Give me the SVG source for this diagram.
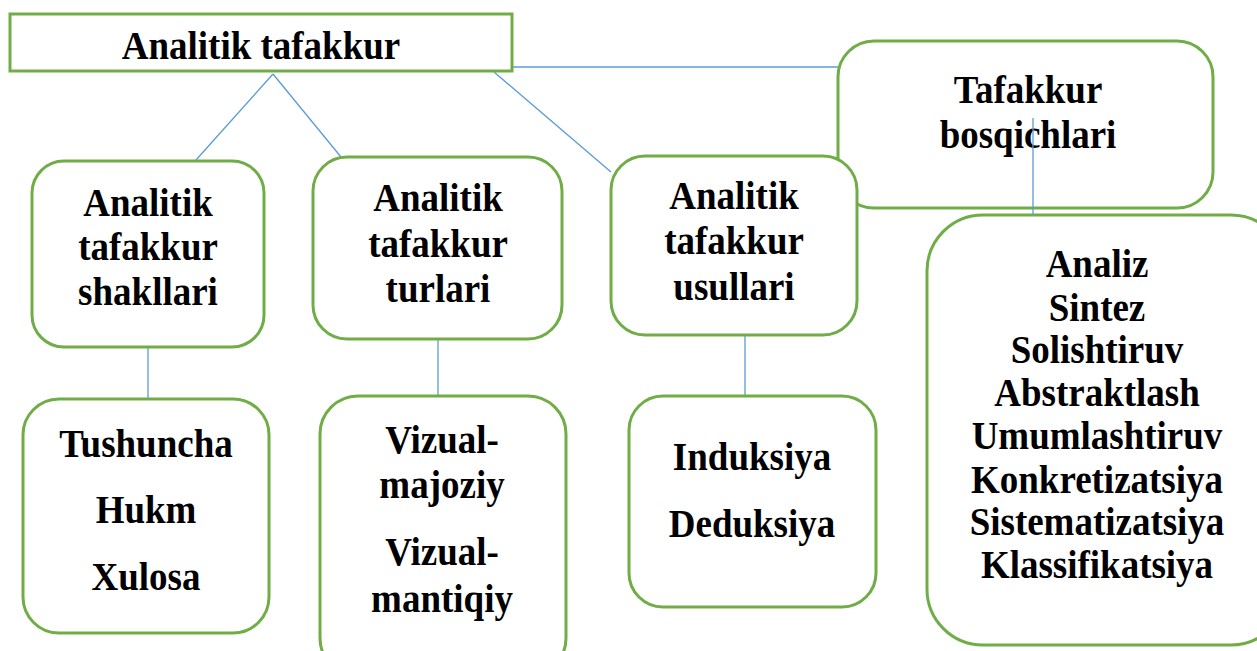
<svg xmlns="http://www.w3.org/2000/svg" width="1257" height="651" viewBox="0 0 1257 651">
<style>
.box{fill:#fff;stroke:#70AD47;stroke-width:3}
.t{font-family:'Liberation Serif','Times New Roman',serif;font-weight:700;font-size:37px;fill:#000;text-anchor:middle}
.c{stroke:#5B9BD5;stroke-width:1.3;fill:none}
</style>
<rect width="1257" height="651" fill="#fff"/>
<g id="connectors">
<line class="c" x1="513" y1="67" x2="838" y2="67"/>
<line class="c" x1="273" y1="74" x2="196" y2="160"/>
<line class="c" x1="273" y1="74" x2="341" y2="157"/>
<line class="c" x1="494" y1="72" x2="611" y2="172"/>
<line class="c" x1="148" y1="322" x2="148" y2="399"/>
<line class="c" x1="438" y1="316" x2="438" y2="396"/>
<line class="c" x1="745" y1="312" x2="745" y2="396"/>
</g>
<g id="n-top">
<rect class="box" x="10" y="14" width="502" height="57"/>
<text class="t" transform="translate(261,59) scale(1,1.1)">Analitik tafakkur</text>
</g>
<g id="n-bosqich">
<rect class="box" x="838" y="41" width="375" height="167" rx="36"/>
<text class="t" transform="translate(1028,103) scale(1,1.1)">Tafakkur</text>
<text class="t" transform="translate(1028,148) scale(1,1.1)">bosqichlari</text>
</g>
<g id="n-list">
<rect class="box" x="927" y="215" width="360" height="430" rx="56"/>
<text class="t" transform="translate(1097,277) scale(1,1.1)">Analiz</text>
<text class="t" transform="translate(1097,321) scale(1,1.1)">Sintez</text>
<text class="t" transform="translate(1097,363) scale(1,1.1)">Solishtiruv</text>
<text class="t" transform="translate(1097,406) scale(1,1.1)">Abstraktlash</text>
<text class="t" transform="translate(1097,449) scale(1,1.1)">Umumlashtiruv</text>
<text class="t" transform="translate(1097,493) scale(1,1.1)">Konkretizatsiya</text>
<text class="t" transform="translate(1097,535) scale(1,1.1)">Sistematizatsiya</text>
<text class="t" transform="translate(1097,578) scale(1,1.1)">Klassifikatsiya</text>
</g>
<g id="connector-bosqich">
<line class="c" x1="1033" y1="118" x2="1033" y2="215"/>
</g>
<g id="n-shakl">
<rect class="box" x="32" y="161" width="232" height="186" rx="32"/>
<text class="t" transform="translate(148,216) scale(1,1.1)">Analitik</text>
<text class="t" transform="translate(148,260) scale(1,1.1)">tafakkur</text>
<text class="t" transform="translate(148,305) scale(1,1.1)">shakllari</text>
</g>
<g id="n-turlari">
<rect class="box" x="313" y="157" width="249" height="182" rx="34"/>
<text class="t" transform="translate(438,211) scale(1,1.1)">Analitik</text>
<text class="t" transform="translate(438,257) scale(1,1.1)">tafakkur</text>
<text class="t" transform="translate(438,302) scale(1,1.1)">turlari</text>
</g>
<g id="n-usullari">
<rect class="box" x="611" y="156" width="246" height="179" rx="34"/>
<text class="t" transform="translate(734,209) scale(1,1.1)">Analitik</text>
<text class="t" transform="translate(734,254) scale(1,1.1)">tafakkur</text>
<text class="t" transform="translate(734,300) scale(1,1.1)">usullari</text>
</g>
<g id="n-tushuncha">
<rect class="box" x="23" y="399" width="246" height="234" rx="36"/>
<text class="t" transform="translate(146,457) scale(1,1.1)">Tushuncha</text>
<text class="t" transform="translate(146,523) scale(1,1.1)">Hukm</text>
<text class="t" transform="translate(146,590) scale(1,1.1)">Xulosa</text>
</g>
<g id="n-vizual">
<rect class="box" x="320" y="396" width="246" height="280" rx="38"/>
<text class="t" transform="translate(442,453) scale(1,1.1)">Vizual-</text>
<text class="t" transform="translate(442,498) scale(1,1.1)">majoziy</text>
<text class="t" transform="translate(442,565) scale(1,1.1)">Vizual-</text>
<text class="t" transform="translate(442,612) scale(1,1.1)">mantiqiy</text>
</g>
<g id="n-induksiya">
<rect class="box" x="629" y="396" width="247" height="211" rx="34"/>
<text class="t" transform="translate(752,470) scale(1,1.1)">Induksiya</text>
<text class="t" transform="translate(752,537) scale(1,1.1)">Deduksiya</text>
</g>
</svg>
